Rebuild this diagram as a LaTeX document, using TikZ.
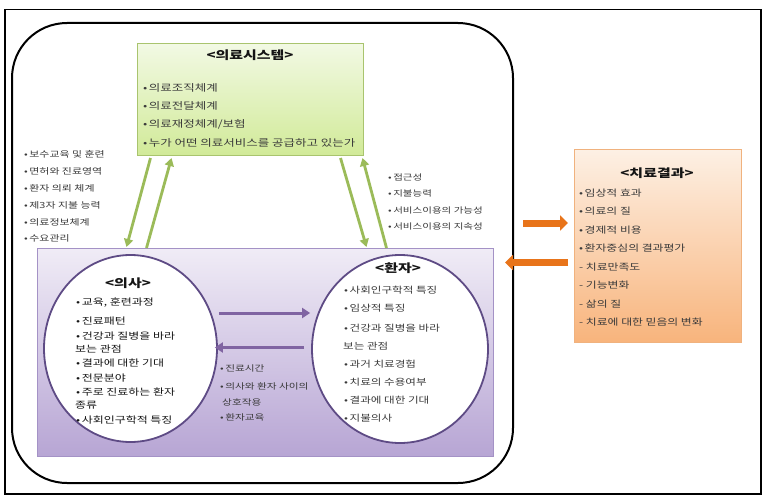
\documentclass[tikz,border=0pt]{standalone}
\usepackage{fontspec}
\setmainfont{Noto Sans CJK KR}
\newfontfamily\kr[FakeStretch=1.3]{Noto Sans CJK KR}
\usetikzlibrary{arrows.meta,shapes.geometric}

\definecolor{txt}{HTML}{3A3A3A}
\definecolor{txtdark}{HTML}{151515}
\definecolor{sysline}{HTML}{A9C46E}
\definecolor{systop}{HTML}{F2F9E4}
\definecolor{sysbot}{HTML}{D1EA98}
\definecolor{purpline}{HTML}{A492C6}
\definecolor{purptop}{HTML}{F0ECF6}
\definecolor{purpbot}{HTML}{B7A5D4}
\definecolor{ellline}{HTML}{5E4B85}
\definecolor{outline}{HTML}{F0B27E}
\definecolor{outtop}{HTML}{FDF0E4}
\definecolor{outbot}{HTML}{F8B47C}
\definecolor{garrow}{HTML}{9BBB59}
\definecolor{parrow}{HTML}{8064A2}
\definecolor{oarrow}{HTML}{E8741A}

\newcommand\itmark{•\hspace{1.5pt}}

\begin{document}
\begin{tikzpicture}[x=1pt,y=-1pt,
  lbl/.style={inner sep=0pt, anchor=west, text=txt},
  ttl/.style={inner sep=0pt, text=txtdark, font=\kr\bfseries\fontsize{11.5}{13}\selectfont},
  fsys/.style={font=\kr\fontsize{9.6}{11}\selectfont},
  fleft/.style={font=\kr\fontsize{8.4}{10}\selectfont},
  fright/.style={font=\kr\fontsize{8.1}{10}\selectfont},
  fmid/.style={font=\kr\fontsize{8.2}{10}\selectfont},
  fdoc/.style={font=\kr\fontsize{9.2}{11}\selectfont, text=txtdark},
  fpat/.style={font=\kr\fontsize{8.9}{11}\selectfont},
  fout/.style={font=\kr\fontsize{9.1}{11}\selectfont},
  box/.style={inner sep=0pt, anchor=north west},
  greenarrow/.style={draw=garrow, line width=2.8pt, -{Triangle[length=8pt,width=9pt]}},
  purparrow/.style={draw=parrow, line width=3pt, -{Triangle[length=8pt,width=10pt]}},
  orangearrow/.style={draw=oarrow, line width=7pt, -{Triangle[length=8pt,width=15pt]}}
]
\useasboundingbox (0,0) rectangle (763,495);
\fill[white] (0,0) rectangle (763,495);

% outer frame and rounded field
\node[box, draw, line width=1.5pt, minimum width=756pt, minimum height=484pt] (frame) at (4,9) {};
\node[box, draw, line width=2pt, rounded corners=55pt, minimum width=501pt, minimum height=460pt] (field) at (11,22) {};

% health system box
\node[box, draw=sysline, line width=1pt, top color=systop, bottom color=sysbot,
      minimum width=226pt, minimum height=112pt] (sys) at (137,43) {};
\node[ttl] (systitle) at (250,55) {<의료시스템>};
\foreach \yy/\ln [count=\i] in {88/{\itmark 의료조직체계}, 106/{\itmark 의료전달체계},
    124.5/{\itmark 의료재정체계/보험}, 143/{\itmark 누가 어떤 의료서비스를 공급하고 있는가}}
  \node[lbl, fsys] (sys\i) at (143,\yy) {\ln};

% doctor / patient area
\node[box, draw=purpline, line width=1pt, top color=purptop, bottom color=purpbot,
      minimum width=456pt, minimum height=208pt] (purp) at (37,248) {};
\node[ellipse, draw=ellline, line width=1.8pt, fill=white,
      minimum width=173pt, minimum height=187pt, inner sep=0pt] (doc) at (130.5,348.5) {};
\node[ellipse, draw=ellline, line width=1.8pt, fill=white,
      minimum width=176pt, minimum height=188pt, inner sep=0pt] (pat) at (400,349) {};

\node[ttl] (doctitle) at (128,283) {<의사>};
\foreach \yy/\xx/\ln [count=\i] in {303/76/{\itmark 교육, 훈련과정}, 321/76/{\itmark 진료패턴},
    336/76/{\itmark 건강과 질병을 바라}, 349/75/{보는 관점}, 363/76/{\itmark 결과에 대한 기대},
    378/76/{\itmark 전문분야}, 392/76/{\itmark 주로 진료하는 환자}, 405/75/{종류},
    420/76/{\itmark 사회인구학적 특징}}
  \node[lbl, fdoc] (doc\i) at (\xx,\yy) {\ln};

\node[ttl] (pattitle) at (398,268) {<환자>};
\foreach \yy/\xx/\ln [count=\i] in {290/344/{\itmark 사회인구학적 특징}, 308/344/{\itmark 임상적 특징},
    328/344/{\itmark 건강과 질병을 바라}, 346/343/{보는 관점}, 364/344/{\itmark 과거 치료경험},
    382/344/{\itmark 치료의 수용여부}, 400/344/{\itmark 결과에 대한 기대}, 418/344/{\itmark 지불의사}}
  \node[lbl, fpat] (pat\i) at (\xx,\yy) {\ln};

% doctor-patient interaction
\coordinate (dp1) at ([shift={(1,-35.5)}]doc.east);
\coordinate (dp2) at ([shift={(-7,-1.5)}]pat.west);
\draw[purparrow, shorten >=1pt] (dp1) -- (dp1 -| pat.west);
\draw[purparrow, shorten >=-3pt] (dp2) -- (dp2 -| doc.east);
\foreach \yy/\xx/\ln [count=\i] in {368/220/{\itmark 진료시간}, 386/220/{\itmark 의사와 환자 사이의},
    402/222/{상호작용}, 417/220/{\itmark 환자교육}}
  \node[lbl, fmid] (mid\i) at (\xx,\yy) {\ln};

% system <-> doctor / patient
\draw[greenarrow] ([shift={(-100,2)}]sys.south) -- ([shift={(-139,-1)}]purp.north);
\draw[greenarrow] ([shift={(-119,0)}]purp.north) -- ([shift={(-79,2)}]sys.south);
\draw[greenarrow] ([shift={(90,2)}]sys.south) -- ([shift={(101,-1)}]purp.north);
\draw[greenarrow] ([shift={(121,0)}]purp.north) -- ([shift={(112,2)}]sys.south);

\foreach \yy/\ln [count=\i] in {154/{보수교육 및 훈련}, 171/{면허와 진료영역}, 188/{환자 의뢰 체계},
    205/{제3자 지불 능력}, 222/{의료정보체계}, 238/{수요관리}}
  \node[lbl, fleft] (left\i) at (24,\yy) {\itmark\ln};
\foreach \yy/\ln [count=\i] in {177/{접근성}, 193/{지불능력}, 210/{서비스이용의 가능성}, 226/{서비스이용의 지속성}}
  \node[lbl, fright] (right\i) at (388,\yy) {\itmark\ln};

% treatment outcome box
\node[box, draw=outline, line width=1pt, top color=outtop, bottom color=outbot,
      minimum width=167pt, minimum height=193pt] (out) at (574,149) {};
\node[ttl] (outtitle) at (657,173) {<치료결과>};
\foreach \yy/\ln [count=\i] in {193/{\itmark 임상적 효과}, 211.5/{\itmark 의료의 질}, 230/{\itmark 경제적 비용},
    248.5/{\itmark 환자중심의 결과평가}, 267/{- 치료만족도}, 285.5/{- 기능변화}, 304/{- 삶의 질},
    322.5/{- 치료에 대한 믿음의 변화}}
  \node[lbl, fout] (out\i) at (579,\yy) {\ln};

\coordinate (o1) at ([shift={(9,-30)}]field.east);
\coordinate (o2) at ([shift={(-6,16.5)}]out.west);
\draw[orangearrow, shorten >=6pt] (o1) -- (o1 -| out.west);
\draw[orangearrow, shorten >=-9pt] (o2) -- (o2 -| field.east);
\end{tikzpicture}
\end{document}
